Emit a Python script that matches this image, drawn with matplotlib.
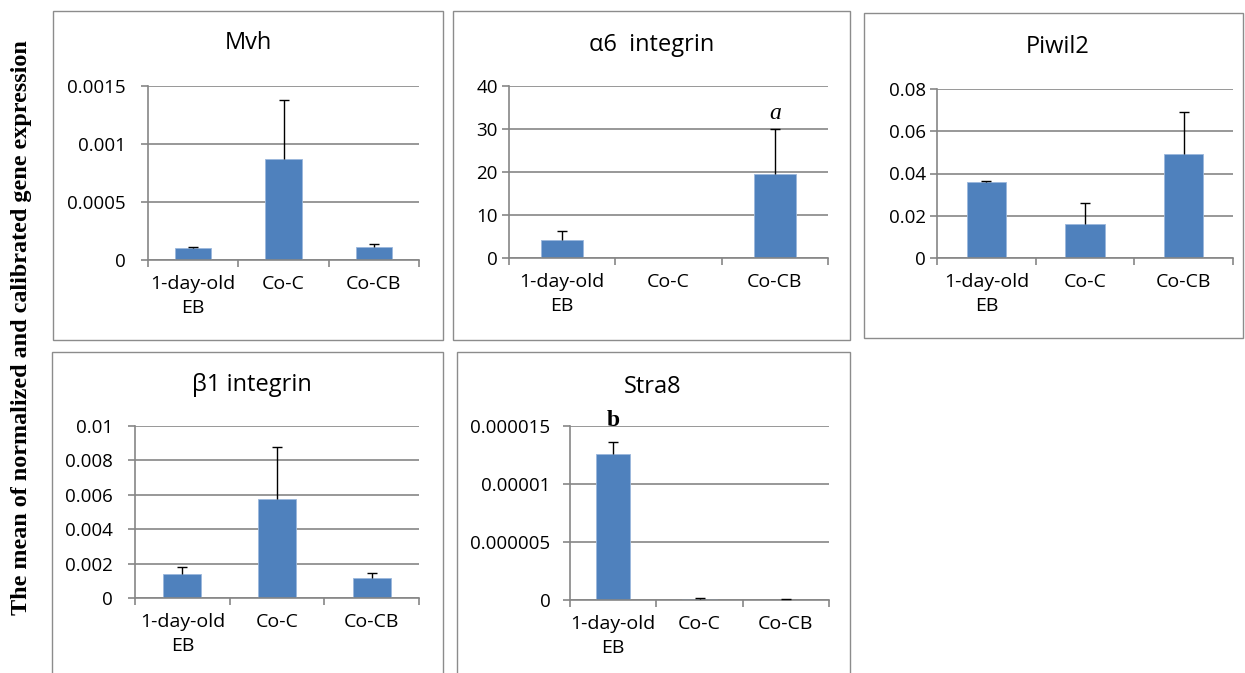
import matplotlib
matplotlib.use("Agg")
import matplotlib.pyplot as plt
from matplotlib.patches import Rectangle
import numpy as np

plt.rcParams['font.family'] = ['Open Sans', 'DejaVu Sans']

groups = ['1-day-old\nEB', 'Co-C', 'Co-CB']

mvh = [0.000106, 0.00087, 0.000115]
mvh_err = [0.000010, 0.00051, 0.000023]
mvh_ticks = [0, 0.0005, 0.001, 0.0015]
mvh_labels = ['0', '0.0005', '0.001', '0.0015']

a6 = [4.2, 0.0, 19.5]
a6_err = [2.1, 0.0, 10.4]
a6_ticks = [0, 10, 20, 30, 40]
a6_labels = ['0', '10', '20', '30', '40']

piwil2 = [0.036, 0.016, 0.049]
piwil2_err = [0.0003, 0.010, 0.020]
piwil2_ticks = [0, 0.02, 0.04, 0.06, 0.08]
piwil2_labels = ['0', '0.02', '0.04', '0.06', '0.08']

b1 = [0.0014, 0.00578, 0.00116]
b1_err = [0.00042, 0.0030, 0.00031]
b1_ticks = [0, 0.002, 0.004, 0.006, 0.008, 0.01]
b1_labels = ['0', '0.002', '0.004', '0.006', '0.008', '0.01']

stra8 = [0.0000126, 0.0000001, 0.00000003]
stra8_err = [0.0000010, 0.00000006, 0.00000003]
stra8_ticks = [0, 0.000005, 0.00001, 0.000015]
stra8_labels = ['0', '0.000005', '0.00001', '0.000015']

W, H = 1245, 673
fig = plt.figure(figsize=(W / 100, H / 100), dpi=100)

def fx(px):
    return px / W

def fy(py):
    return 1 - py / H

# frame (l, t, r, b), axes (l, t, r, b), title x, title y, y label pad
panels = [
    ('Mvh', mvh, mvh_err, mvh_ticks, mvh_labels,
     (53, 11, 443, 340), (148, 86, 419, 260), 248, 43, 11),
    ('α6  integrin', a6, a6_err, a6_ticks, a6_labels,
     (453, 11, 850, 340), (509, 86, 828, 258), 652, 45, 3),
    ('Piwil2', piwil2, piwil2_err, piwil2_ticks, piwil2_labels,
     (864, 13, 1243, 338), (937, 89, 1233, 258), 1058, 47, 3),
    ('β1 integrin', b1, b1_err, b1_ticks, b1_labels,
     (52, 352, 443, 680), (135, 426, 419, 598), 252, 385, 11),
    ('Stra8', stra8, stra8_err, stra8_ticks, stra8_labels,
     (457, 352, 850, 680), (570, 426, 829, 600), 653, 387, 9),
]

grey = '#868686'
blue = '#4f81bd'
axes = []
for title, vals, errs, ticks, tlabels, frame, box, tx, ty, ypad in panels:
    fl, ft, fr, fb = frame
    fig.patches.append(Rectangle((fx(fl), fy(fb)), fx(fr - fl), (fb - ft) / H,
                                 transform=fig.transFigure, fill=False,
                                 edgecolor='#8c8c8c', lw=1.0, zorder=0))
    l, t, r, b = box
    ax = fig.add_axes([fx(l), fy(b), fx(r - l), (b - t) / H])
    x = np.arange(len(groups))
    v = np.array(vals)
    e = np.array(errs)
    ax.bar(x, v, width=0.4, color=blue, edgecolor='#9bb7dc', lw=0.6, zorder=2)
    ev = np.where(e > 0, v, np.nan)
    _, caps, _ = ax.errorbar(x, ev, yerr=[np.zeros(len(e)), e], fmt='none',
                             ecolor='black', elinewidth=1, capsize=3.5,
                             capthick=1, zorder=3)
    caps[0].set_visible(False)
    ax.set_xlim(-0.5, 2.5)
    ax.set_ylim(ticks[0], ticks[-1])
    ax.set_yticks(ticks)
    ax.set_yticklabels(tlabels, fontsize=13.5)
    ax.yaxis.grid(True, color=grey, lw=1.2)
    ax.set_axisbelow(True)
    ax.set_xticks([-0.5, 0.5, 1.5, 2.5])
    ax.set_xticklabels([])
    ax.set_xticks(x, minor=True)
    ax.set_xticklabels(groups, minor=True, fontsize=14, linespacing=1.4)
    ax.tick_params(axis='x', which='major', length=5, color=grey, width=1.2)
    ax.tick_params(axis='x', which='minor', length=0, pad=11)
    ax.tick_params(axis='y', length=5, color=grey, width=1.2, pad=ypad)
    for s in ['top', 'right']:
        ax.spines[s].set_visible(False)
    for s in ['left', 'bottom']:
        ax.spines[s].set_color(grey)
        ax.spines[s].set_linewidth(1.2)
    fig.text(fx(tx), fy(ty), title, fontsize=17, ha='center', va='center')
    axes.append(ax)

axes[1].annotate('a', (2, a6[2] + a6_err[2]), xytext=(0, 4),
                 textcoords='offset points', ha='center', va='bottom',
                 fontsize=17, style='italic', family='Liberation Serif')
axes[4].annotate('b', (0, stra8[0] + stra8_err[0]), xytext=(0, 8),
                 textcoords='offset points', ha='center', va='bottom',
                 fontsize=17, weight='bold', family='Liberation Serif',
                 annotation_clip=False)

fig.text(fx(22), fy(328), 'The mean of normalized and calibrated gene expression',
         rotation=90, ha='center', va='center', fontsize=17.4, weight='bold',
         family='Liberation Serif')

fig.savefig('out.png', dpi=100)
